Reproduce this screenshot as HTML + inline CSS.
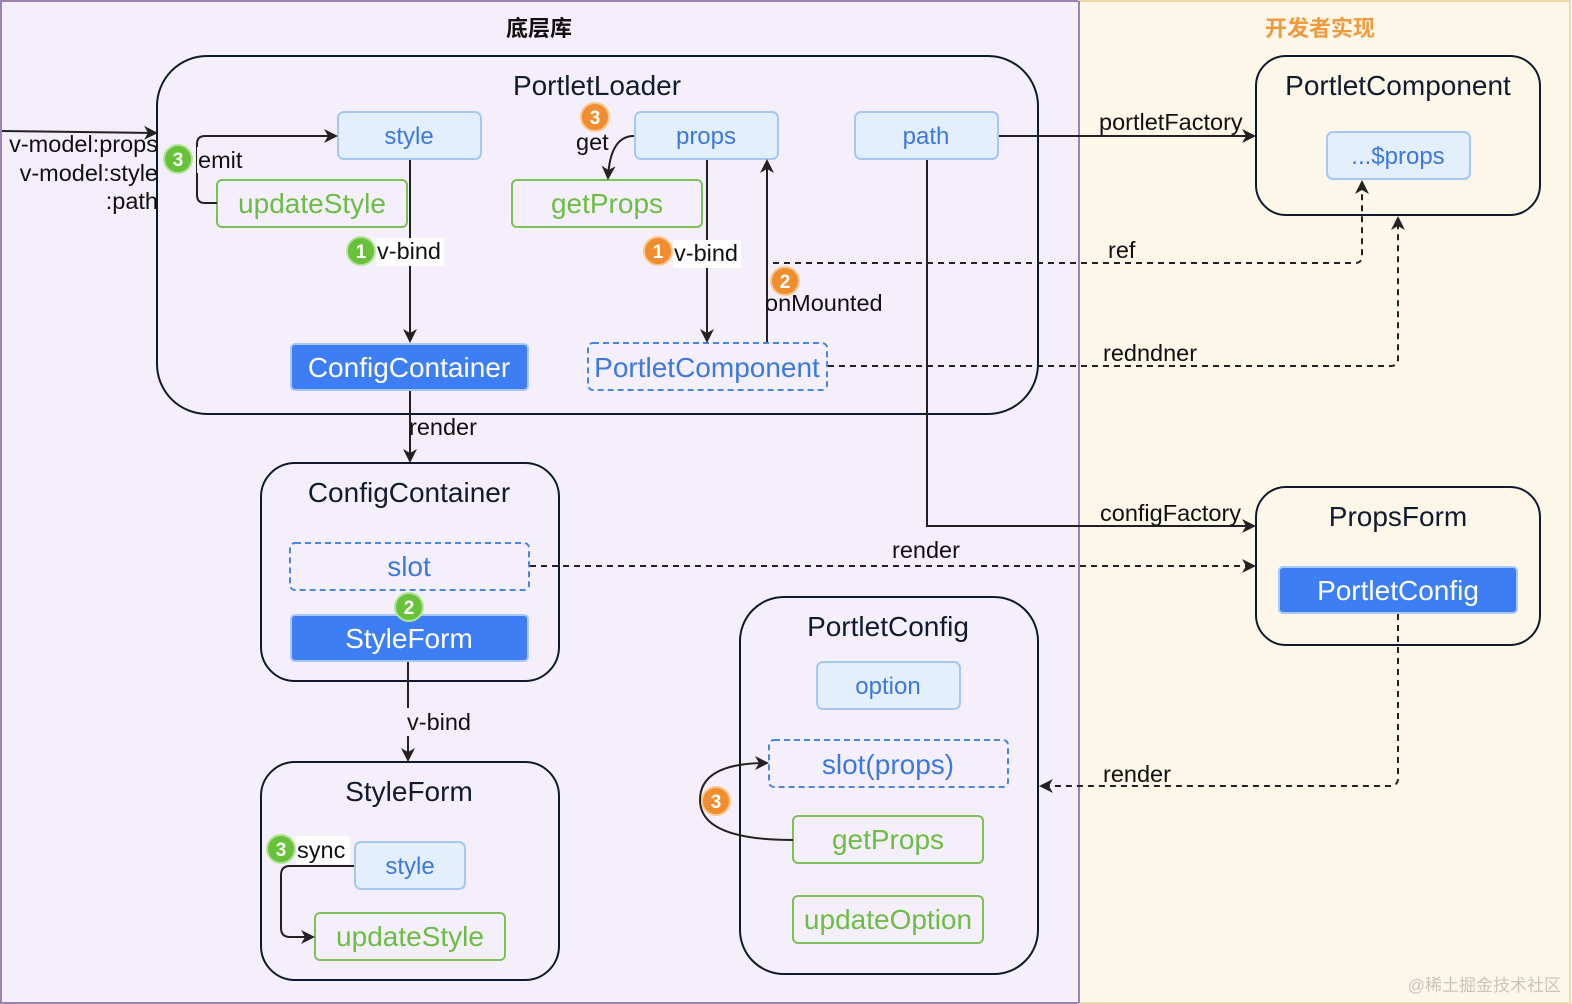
<!DOCTYPE html>
<html><head><meta charset="utf-8"><style>
html,body{margin:0;padding:0;background:#fff}
svg{display:block}
text{font-family:"Liberation Sans","Noto Sans CJK SC",sans-serif}
</style></head><body>
<svg width="1572" height="1004" viewBox="0 0 1572 1004" xmlns="http://www.w3.org/2000/svg">
<defs>
<marker id="ar" markerWidth="14" markerHeight="14" refX="12" refY="7" orient="auto" markerUnits="userSpaceOnUse">
<path d="M0,0 L14,7 L0,14 L4,7 z" fill="#222"/></marker>
</defs>
<rect x="1" y="1" width="1078" height="1002" fill="#f5effb" stroke="#9a82b6" stroke-width="2"/>
<rect x="1079" y="1" width="491" height="1002" fill="#fdf7e9" stroke="#f0d9a8" stroke-width="2"/>
<line x1="1079" y1="1" x2="1079" y2="1003" stroke="#9a82b6" stroke-width="2"/>
<text x="539" y="36" font-size="22" font-weight="bold" text-anchor="middle" fill="#111">底层库</text>
<text x="1320" y="36" font-size="22" font-weight="bold" text-anchor="middle" fill="#ef9a3c">开发者实现</text>

<g fill="none" stroke="#0f1a2e" stroke-width="2">
<rect x="157" y="56" width="881" height="358" rx="50"/>
<rect x="261" y="463" width="298" height="218" rx="34"/>
<rect x="261" y="762" width="298" height="218" rx="34"/>
<rect x="740" y="597" width="298" height="377" rx="44"/>
<rect x="1256" y="56" width="284" height="159" rx="30"/>
<rect x="1256" y="487" width="284" height="158" rx="30"/>
</g>
<g font-size="28" fill="#111a2e" text-anchor="middle">
<text x="597" y="95">PortletLoader</text>
<text x="409" y="502">ConfigContainer</text>
<text x="409" y="801">StyleForm</text>
<text x="888" y="636">PortletConfig</text>
<text x="1398" y="95">PortletComponent</text>
<text x="1398" y="526">PropsForm</text>
</g>

<g fill="#e4effd" stroke="#a5c7f3" stroke-width="2">
<rect x="338" y="112" width="143" height="47" rx="6"/>
<rect x="635" y="112" width="143" height="47" rx="6"/>
<rect x="855" y="112" width="143" height="47" rx="6"/>
<rect x="1327" y="132" width="143" height="47" rx="6"/>
<rect x="355" y="842" width="110" height="47" rx="6"/>
<rect x="817" y="662" width="143" height="47" rx="6"/>
</g>
<g font-size="24" fill="#3b78df" text-anchor="middle">
<text x="409" y="144">style</text>
<text x="706" y="144">props</text>
<text x="926" y="144">path</text>
<text x="1398" y="164">...$props</text>
<text x="410" y="874">style</text>
<text x="888" y="694">option</text>
</g>
<g fill="none" stroke="#7cc158" stroke-width="2">
<rect x="217" y="180" width="190" height="47" rx="5"/>
<rect x="512" y="180" width="190" height="47" rx="5"/>
<rect x="315" y="913" width="190" height="47" rx="5"/>
<rect x="793" y="816" width="190" height="47" rx="5"/>
<rect x="793" y="896" width="190" height="47" rx="5"/>
</g>
<g font-size="28" fill="#6cbd44" text-anchor="middle">
<text x="312" y="213">updateStyle</text>
<text x="607" y="213">getProps</text>
<text x="410" y="946">updateStyle</text>
<text x="888" y="849">getProps</text>
<text x="888" y="929">updateOption</text>
</g>
<g fill="#3d7ef5" stroke="#a8c8fa" stroke-width="2">
<rect x="291" y="344" width="237" height="46" rx="4"/>
<rect x="291" y="615" width="237" height="46" rx="4"/>
<rect x="1279" y="567" width="238" height="46" rx="4"/>
</g>
<g font-size="28" fill="#fff" text-anchor="middle">
<text x="409" y="377">ConfigContainer</text>
<text x="409" y="648">StyleForm</text>
<text x="1398" y="600">PortletConfig</text>
</g>
<g fill="none" stroke="#4a84e4" stroke-width="2" stroke-dasharray="6,4">
<rect x="588" y="343" width="239" height="47" rx="5"/>
<rect x="290" y="543" width="239" height="47" rx="5"/>
<rect x="769" y="740" width="239" height="47" rx="5"/>
</g>
<g font-size="28" fill="#3b78df" text-anchor="middle">
<text x="707" y="377">PortletComponent</text>
<text x="409" y="576">slot</text>
<text x="888" y="774">slot(props)</text>
</g>

<g fill="none" stroke="#222" stroke-width="2">
<line x1="2" y1="131" x2="156" y2="133" marker-end="url(#ar)"/>
<path d="M217,203 L205,203 Q197,203 197,195 L197,144 Q197,136 205,136 L336,136" marker-end="url(#ar)"/>
<line x1="410" y1="160" x2="410" y2="341" marker-end="url(#ar)"/>
<path d="M634,136 Q610,136 608,178" marker-end="url(#ar)"/>
<line x1="707" y1="160" x2="707" y2="341" marker-end="url(#ar)"/>
<line x1="767" y1="342" x2="767" y2="161" marker-end="url(#ar)"/>
<line x1="999" y1="136" x2="1254" y2="136" marker-end="url(#ar)"/>
<path d="M927,160 L927,526 L1254,526" marker-end="url(#ar)"/>
<line x1="410" y1="391" x2="410" y2="461" marker-end="url(#ar)"/>
<line x1="408" y1="662" x2="408" y2="760" marker-end="url(#ar)"/>
<path d="M354,866 L290,866 Q281,866 281,875 L281,928 Q281,937 290,937 L313,937" marker-end="url(#ar)"/>
<path d="M793,840 Q700,840 700,800 Q700,763 767,763" marker-end="url(#ar)"/>
</g>
<g fill="none" stroke="#222" stroke-width="2" stroke-dasharray="6,5">
<path d="M773,263 L1355,263 Q1362,263 1362,256 L1362,182" marker-end="url(#ar)"/>
<path d="M828,366 L1391,366 Q1398,366 1398,359 L1398,218" marker-end="url(#ar)"/>
<line x1="530" y1="566" x2="1254" y2="566" marker-end="url(#ar)"/>
<path d="M1398,614 L1398,778 Q1398,786 1390,786 L1041,786" marker-end="url(#ar)"/>
</g>

<g font-size="23.5" fill="#111">
<text x="158" y="152" text-anchor="end">v-model:props</text>
<text x="158" y="181" text-anchor="end">v-model:style</text>
<text x="158" y="209" text-anchor="end">:path</text>
<rect x="197" y="147" width="48" height="26" fill="#f5effb"/>
<text x="198" y="168">emit</text>
<rect x="376" y="238" width="68" height="28" fill="#fff"/>
<text x="377" y="259">v-bind</text>
<text x="576" y="150">get</text>
<rect x="673" y="240" width="68" height="28" fill="#fff"/>
<text x="674" y="261">v-bind</text>
<text x="765" y="311">onMounted</text>
<text x="1108" y="258">ref</text>
<text x="1103" y="361">redndner</text>
<text x="1099" y="130">portletFactory</text>
<text x="1100" y="521">configFactory</text>
<text x="892" y="558">render</text>
<text x="409" y="435">render</text>
<rect x="406" y="708" width="68" height="28" fill="#f5effb"/>
<text x="407" y="730">v-bind</text>
<rect x="296" y="836" width="54" height="28" fill="#fff"/>
<text x="297" y="858">sync</text>
<text x="1103" y="782">render</text>
</g>

<g font-size="19" font-weight="bold" fill="#fff" text-anchor="middle">
<circle cx="178" cy="159" r="14" fill="#67c23a" stroke="#b6e39c" stroke-width="2"/><text x="178" y="166">3</text>
<circle cx="361" cy="251" r="14" fill="#67c23a" stroke="#b6e39c" stroke-width="2"/><text x="361" y="258">1</text>
<circle cx="595" cy="117" r="14" fill="#ef8d2f" stroke="#f9c88e" stroke-width="2"/><text x="595" y="124">3</text>
<circle cx="658" cy="251" r="14" fill="#ef8d2f" stroke="#f9c88e" stroke-width="2"/><text x="658" y="258">1</text>
<circle cx="785" cy="281" r="14" fill="#ef8d2f" stroke="#f9c88e" stroke-width="2"/><text x="785" y="288">2</text>
<circle cx="409" cy="607" r="14" fill="#67c23a" stroke="#b6e39c" stroke-width="2"/><text x="409" y="614">2</text>
<circle cx="281" cy="849" r="14" fill="#67c23a" stroke="#b6e39c" stroke-width="2"/><text x="281" y="856">3</text>
<circle cx="716" cy="801" r="14" fill="#ef8d2f" stroke="#f9c88e" stroke-width="2"/><text x="716" y="808">3</text>
</g>
<text x="1561" y="991" font-size="17" fill="#c9c3bb" text-anchor="end" font-family="'Noto Serif CJK SC',serif">@稀土掘金技术社区</text>
</svg>
</body></html>
